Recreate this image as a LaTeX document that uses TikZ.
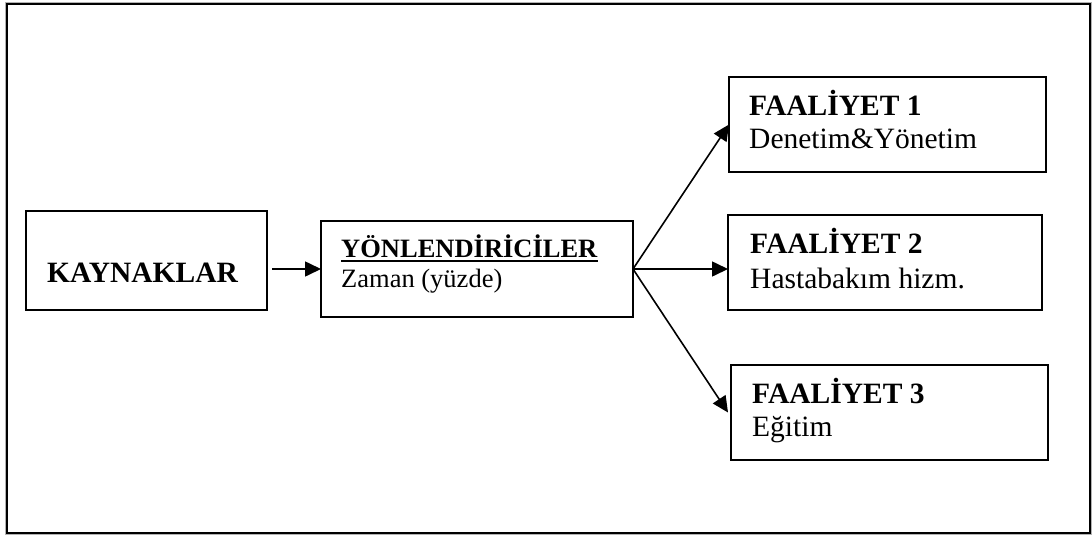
\documentclass[tikz,border=0pt]{standalone}
\usepackage{fontspec}
\setmainfont{Liberation Serif}
\usetikzlibrary{arrows.meta}
\begin{document}
\begin{tikzpicture}[x=1pt,y=-1pt,
  box/.style={draw=black,line width=2.4pt,inner sep=0pt,outer sep=0pt,rectangle},
  bigtxt/.style={anchor=base west,inner sep=0pt,font=\fontsize{29.5}{34}\selectfont},
  midtxt/.style={anchor=base west,inner sep=0pt,font=\fontsize{26.5}{30}\selectfont},
  arr/.style={line width=1.6pt,-{Triangle[length=16pt,width=15pt]}}]
\useasboundingbox (0,0) rectangle (1092,536);
% outer frame
\draw[gray!60,line width=1pt] (5.5,2.5) rectangle (1091.5,534.5);
\draw[line width=2.4pt] (7,4) rectangle (1090,533);

% boxes
\node[box,minimum width=241pt,minimum height=99pt] (kay) at (146.5,260.5) {};
\node[box,minimum width=312pt,minimum height=96pt] (yon) at (477,269) {};
\node[box,minimum width=317pt,minimum height=95pt] (f1) at (887.5,124.5) {};
\node[box,minimum width=314pt,minimum height=95pt] (f2) at (885,262.5) {};
\node[box,minimum width=317pt,minimum height=95pt] (f3) at (889.5,412.5) {};

% texts
\node[bigtxt] (kayt) at (47,282) {\bfseries KAYNAKLAR};
\node[midtxt] (yont) at (341,257) {\bfseries YÖNLENDİRİCİLER};
\draw[line width=2pt] ([yshift=-4pt]yont.base west) -- ([yshift=-4pt]yont.base east);
\node[midtxt] (yons) at (341,287) {Zaman (yüzde)};
\node[bigtxt] (f1t) at (749,115) {\bfseries FAALİYET 1};
\node[bigtxt] (f1s) at (749,148) {Denetim\&Yönetim};
\node[bigtxt] (f2t) at (750,253) {\bfseries FAALİYET 2};
\node[bigtxt] (f2s) at (750,288) {Hastabakım hizm.};
\node[bigtxt] (f3t) at (752,403) {\bfseries FAALİYET 3};
\node[bigtxt] (f3s) at (752,436) {Eğitim};

% connectors
\draw[arr,shorten <=5pt] (kay.east |- yon.west) -- (yon.west);
\draw[arr] (yon.east) -- (f1.west);
\draw[arr] (yon.east) -- (f2.west |- yon.east);
\draw[arr] (yon.east) -- ([xshift=-3pt]f3.west);
\end{tikzpicture}
\end{document}
